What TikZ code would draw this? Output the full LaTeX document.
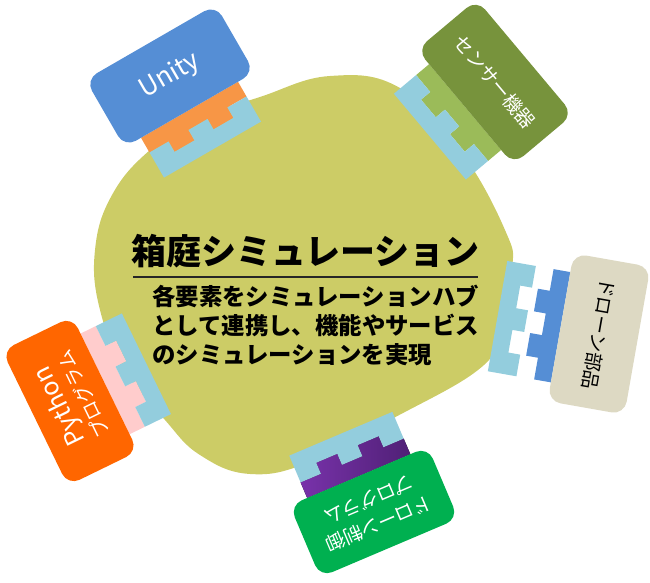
\documentclass[tikz,border=0pt]{standalone}
\usepackage{fontspec}
\setmainfont{Noto Sans CJK JP}
\usetikzlibrary{positioning}

\definecolor{blobolive}{RGB}{204,204,102}
\definecolor{socketblue}{RGB}{147,205,221}
\definecolor{unityblue}{RGB}{85,142,213}
\definecolor{plugorange}{RGB}{247,150,70}
\definecolor{sensorgreen}{RGB}{119,147,60}
\definecolor{pluggreen}{RGB}{155,187,89}
\definecolor{partsbeige}{RGB}{221,217,195}
\definecolor{controlgreen}{RGB}{0,176,80}
\definecolor{plugpurple}{RGB}{120,50,170}
\definecolor{plugpurpledark}{RGB}{80,32,118}
\definecolor{pythonorange}{RGB}{255,102,0}
\definecolor{plugpink}{RGB}{255,204,204}

% one module: box, plug with two teeth, socket with three teeth
% #1 box colour, #2 plug fill, #3 gap to socket, #4 text colour, #5 label
\tikzset{
  pics/module/.style n args={5}{code={
    \fill[#2] (-56,-39) -| (56,-56) -- (34,-56) |- (11,-68) |- (-11,-56) |- (-34,-68) |- (-56,-56) -- cycle;
    \fill[socketblue, shift={(0,-#3)}] (-56,-85) -| (56,-56) -- (34,-56) |- (11,-68) |- (-11,-56) |- (-34,-68) |- (-56,-56) -- cycle;
    \node[modbox, fill=#1, text=#4] (-box) at (0,0) {#5};
  }}
}

\begin{document}
\begin{tikzpicture}[
    x=1pt, y=1pt,
    modbox/.style={rectangle, rounded corners=13pt, minimum width=150pt, minimum height=78pt, inner sep=0pt, align=center, font=\fontsize{19}{26}\selectfont},
    hubtitle/.style={font=\bfseries\fontsize{35}{40}\selectfont, inner sep=0pt},
    hubtext/.style={font=\bfseries\fontsize{23.4}{29}\selectfont, align=left, anchor=north west, inner sep=0pt},
]
\useasboundingbox (0,0) rectangle (650,583);

% ============ HUB ============
\fill[blobolive] plot[smooth cycle, tension=0.7] coordinates {
    (95,333) (112,388) (150,433) (200,465) (260,486) (330,507) (400,495)
    (460,433) (505,353) (512,313) (497,248) (478,213) (390,163) (310,121)
    (250,109) (200,128) (165,163) (125,213) (100,273)};

\node[hubtitle] (title) at (305.5,332) {箱庭シミュレーション};
\draw[line width=2pt, black!85] (133,306) -- (478,306);
\node[hubtext] (desc) at (152,298) {各要素をシミュレーションハブ\\として連携し、機能やサービス\\のシミュレーションを実現};

% ============ MODULES ============
\pic[rotate=30, transform shape] (unity) at (170,507)
    {module={unityblue}{plugorange}{0}{white}{{\fontsize{26}{30}\selectfont Unity}}};
\pic[rotate=-50, transform shape] (sensor) at (495,501)
    {module={sensorgreen}{pluggreen}{0}{white}{センサー機器}};
\pic[rotate=-100, transform shape] (parts) at (599,249)
    {module={partsbeige}{unityblue}{18}{black}{ドローン部品}};
\pic[rotate=-157, transform shape] (control) at (374,71)
    {module={controlgreen}{left color=plugpurple, right color=plugpurpledark}{0}{white}{ドローン制御\\プログラム}};
\pic[rotate=116, transform shape] (python) at (70,182)
    {module={pythonorange}{plugpink}{0}{white}{{\fontsize{25}{27}\selectfont Python}\\プログラム}};

\end{tikzpicture}
\end{document}
